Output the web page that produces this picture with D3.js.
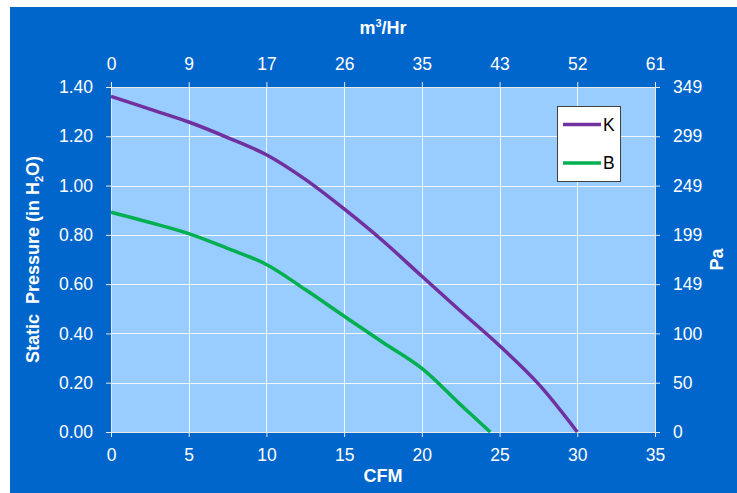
<!DOCTYPE html>
<html>
<head>
<meta charset="utf-8">
<script src="https://cdn.jsdelivr.net/npm/d3@7"></script>
<style>
  html, body { margin: 0; padding: 0; background: #ffffff; }
  svg { display: block; }
  text { font-family: "Liberation Sans", Arial, sans-serif; white-space: pre; }
</style>
</head>
<body>
<svg id="chart" width="737" height="493"></svg>
<script>
// ---- Data ----
const cfmTicks = [0, 5, 10, 15, 20, 25, 30, 35];
const m3hrLabels = ["0", "9", "17", "26", "35", "43", "52", "61"];
const pressureTicks = [0, 0.2, 0.4, 0.6, 0.8, 1.0, 1.2, 1.4];
const paLabels = ["0", "50", "100", "149", "199", "249", "299", "349"];

const seriesNames = ["K", "B"];
const kCfm = [0, 2.5, 5, 7.5, 10, 12.5, 15, 17.5, 20, 22.5, 25, 27.5, 30];
const kPressure = [1.362, 1.31, 1.258, 1.195, 1.125, 1.025, 0.905, 0.775, 0.632, 0.49, 0.35, 0.195, 0];
const bCfm = [0, 2.5, 5, 7.5, 10, 12.5, 15, 17.5, 20, 22.5, 24.4];
const bPressure = [0.892, 0.85, 0.805, 0.745, 0.68, 0.578, 0.47, 0.363, 0.258, 0.11, 0];
const seriesColors = ["#7030A0", "#00B050"];

(function () {
// ---- Layout ----
const svg = d3.select("#chart");
const W = 737, H = 493;
const plot = { left: 111, top: 87, right: 655, bottom: 432 };

svg.append("rect").attr("x", 10).attr("y", 7).attr("width", W - 10).attr("height", H - 7)
  .attr("fill", "#0066CC");

const x = d3.scaleLinear().domain([0, 35]).range([plot.left, plot.right]);
const y = d3.scaleLinear().domain([0, 1.4]).range([plot.bottom, plot.top]);

svg.append("rect").attr("x", plot.left).attr("y", plot.top)
  .attr("width", plot.right - plot.left).attr("height", plot.bottom - plot.top)
  .attr("fill", "#99CCFF");

// gridlines
const grid = svg.append("g");
grid.selectAll("line.v").data(cfmTicks).join("line").attr("class", "v")
  .attr("x1", d => Math.round(x(d)) + 0.5).attr("x2", d => Math.round(x(d)) + 0.5)
  .attr("y1", plot.top).attr("y2", plot.bottom)
  .attr("stroke", "#ffffff").attr("stroke-opacity", 0.85).attr("stroke-width", 1);
grid.selectAll("line.h").data(pressureTicks).join("line").attr("class", "h")
  .attr("y1", d => Math.round(y(d)) + 0.5).attr("y2", d => Math.round(y(d)) + 0.5)
  .attr("x1", plot.left).attr("x2", plot.right)
  .attr("stroke", "#ffffff").attr("stroke-opacity", 0.85).attr("stroke-width", 1);

// axes
function styleAxis(g) {
  g.selectAll(".domain").attr("stroke", "#e8e8e8").attr("stroke-width", 1);
  g.selectAll(".tick line").attr("stroke", "#e8e8e8");
  g.selectAll(".tick text").attr("fill", "#ffffff").attr("font-size", 17.5)
    .attr("font-family", "'Liberation Sans', Arial, sans-serif");
}

svg.append("g").attr("transform", `translate(0,${plot.bottom})`)
  .call(d3.axisBottom(x).tickValues(cfmTicks).tickSize(5).tickSizeOuter(0).tickPadding(12)
    .tickFormat(d3.format("d")))
  .call(styleAxis);

svg.append("g").attr("transform", `translate(0,${plot.top})`)
  .call(d3.axisTop(x).tickValues(cfmTicks).tickSize(5).tickSizeOuter(0).tickPadding(12)
    .tickFormat((d, i) => m3hrLabels[i]))
  .call(styleAxis);

svg.append("g").attr("transform", `translate(${plot.left},0)`)
  .call(d3.axisLeft(y).tickValues(pressureTicks).tickSize(5).tickSizeOuter(0).tickPadding(13)
    .tickFormat(d3.format(".2f")))
  .call(styleAxis);

svg.append("g").attr("transform", `translate(${plot.right},0)`)
  .call(d3.axisRight(y).tickValues(pressureTicks).tickSize(5).tickSizeOuter(0).tickPadding(13)
    .tickFormat((d, i) => paLabels[i]))
  .call(styleAxis);

// axis titles
svg.append("text").attr("x", (plot.left + plot.right) / 2).attr("y", 482)
  .attr("text-anchor", "middle").attr("fill", "#fff").attr("font-size", 18).attr("font-weight", "bold")
  .text("CFM");

const topTitle = svg.append("text").attr("x", (plot.left + plot.right) / 2).attr("y", 34)
  .attr("text-anchor", "middle").attr("fill", "#fff").attr("font-size", 18).attr("font-weight", "bold");
topTitle.append("tspan").text("m");
topTitle.append("tspan").attr("font-size", 11).attr("dy", -7).text("3");
topTitle.append("tspan").attr("dy", 7).text("/Hr");

const lt = svg.append("text")
  .attr("transform", `translate(39,${(plot.top + plot.bottom) / 2}) rotate(-90)`)
  .attr("text-anchor", "middle").attr("fill", "#fff").attr("font-size", 18).attr("font-weight", "bold");
lt.append("tspan").text("Static  Pressure (in H");
lt.append("tspan").attr("font-size", 11).attr("dy", 4).text("2");
lt.append("tspan").attr("dy", -4).text("O)");

svg.append("text")
  .attr("transform", `translate(723,${(plot.top + plot.bottom) / 2}) rotate(-90)`)
  .attr("text-anchor", "middle").attr("fill", "#fff").attr("font-size", 18).attr("font-weight", "bold")
  .text("Pa");

// series
const series = [
  { name: seriesNames[0], xs: kCfm, ys: kPressure, color: seriesColors[0] },
  { name: seriesNames[1], xs: bCfm, ys: bPressure, color: seriesColors[1] }
];
const line = d3.line().x(d => x(d[0])).y(d => y(d[1])).curve(d3.curveCatmullRom.alpha(0.5));
series.forEach(s => {
  svg.append("path").datum(s.xs.map((v, i) => [v, s.ys[i]]))
    .attr("d", line).attr("fill", "none").attr("stroke", s.color)
    .attr("stroke-width", 3.5).attr("stroke-linejoin", "round");
});

// legend
const lg = svg.append("g");
lg.append("rect").attr("x", 557.5).attr("y", 106.5).attr("width", 63).attr("height", 75)
  .attr("fill", "#ffffff").attr("stroke", "#404040").attr("stroke-width", 1);
series.forEach((s, i) => {
  const yy = 124.5 + i * 38.5;
  lg.append("line").attr("x1", 563).attr("x2", 601).attr("y1", yy).attr("y2", yy)
    .attr("stroke", s.color).attr("stroke-width", 3.5);
  lg.append("text").attr("x", 603).attr("y", yy + 6).attr("fill", "#000").attr("font-size", 17.5)
    .text(s.name);
});
})();
</script>
</body>
</html>
